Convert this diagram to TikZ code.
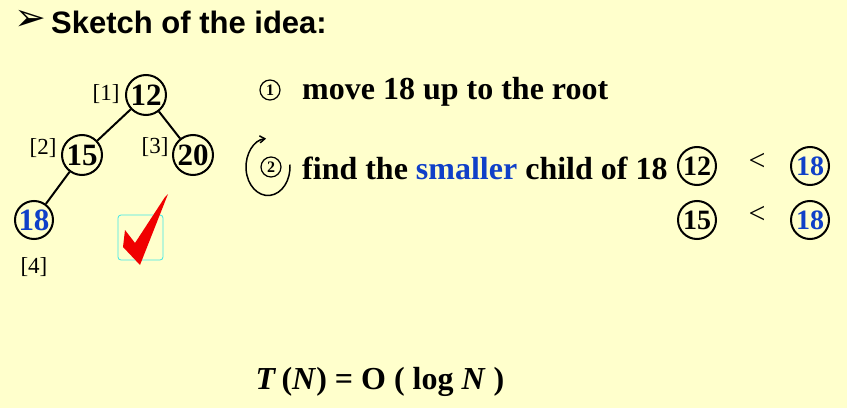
\documentclass[tikz,border=0pt]{standalone}
\usepackage{fontspec}
\setmainfont{Liberation Serif}
\newfontfamily\headfont{Liberation Sans}
\newfontfamily\symfont{DejaVu Sans}
\usetikzlibrary{arrows.meta}
\definecolor{bgyellow}{RGB}{255,255,204}
\definecolor{keyblue}{RGB}{16,64,200}
\definecolor{checkred}{RGB}{240,0,0}
\definecolor{boxcyan}{RGB}{64,230,230}
\begin{document}
\begin{tikzpicture}[x=1pt,y=1pt,
  treenode/.style={circle,draw,line width=2pt,minimum size=40pt,inner sep=0pt,font=\fontsize{31}{31}\selectfont\bfseries},
  cmpnode/.style={circle,draw,line width=2pt,minimum size=38pt,inner sep=0pt,font=\fontsize{28}{28}\selectfont\bfseries},
  idxlabel/.style={font=\fontsize{23}{23}\selectfont,inner sep=0pt},
  numcirc/.style={circle,draw,line width=1.2pt,minimum size=20pt,inner sep=0pt,font=\fontsize{16}{16}\selectfont\bfseries},
  steptext/.style={anchor=west,inner sep=0pt,font=\fontsize{32}{32}\selectfont\bfseries},
  edge/.style={line width=2pt}]
\useasboundingbox[fill=bgyellow] (0,0) rectangle (847,408);
% title
\node[inner sep=0pt,font=\symfont\fontsize{38}{38}\selectfont] (bullet) at (30,388) {➢};
\node[anchor=west,inner sep=0pt,font=\headfont\fontsize{31}{31}\selectfont\bfseries] (title) at (51,386) {Sketch of the idea:};
% tree
\node[treenode] (n12) at (146,313) {12};
\node[treenode] (n15) at (82,253) {15};
\node[treenode] (n20) at (193,253) {20};
\node[treenode,text=keyblue,minimum size=38pt] (n18) at (34,188) {18};
\draw[edge] (n12) -- (n15);
\draw[edge] (n12) -- (n20);
\draw[edge] (n15) -- (n18);
\node[idxlabel] (l1) at (106,314) {[1]};
\node[idxlabel] (l2) at (43,260) {[2]};
\node[idxlabel] (l3) at (155,261) {[3]};
\node[idxlabel] (l4) at (34,141) {[4]};
% check mark
\draw[boxcyan,line width=0.8pt,rounded corners=3pt] (118,148) rectangle (163,193);
\fill[checkred] (125,178) -- (135,165) -- (165,211) -- (168,214) -- (140,143) -- (123,161) -- cycle;
% steps
\node[numcirc] (c1) at (270,318) {1};
\node[steptext] (s1) at (302,316) {move 18 up to the root};
\node[numcirc] (c2) at (271,241) {2};
\node[steptext] (s2) at (302,240) {find the {\color{keyblue}smaller} child of 18};
\draw[line width=1.5pt,-{Straight Barb[length=5pt,width=7pt]}] (268,241) ++(5:22 and 28.5) arc[start angle=5,end angle=-265,x radius=22,y radius=28.5];
% comparisons
\node[cmpnode] (a12) at (697,242) {12};
\node[inner sep=0pt,font=\fontsize{30}{30}\selectfont] (lt1) at (757,246) {<};
\node[cmpnode,text=keyblue] (a18) at (810,242) {18};
\node[cmpnode] (b15) at (697,188) {15};
\node[inner sep=0pt,font=\fontsize{30}{30}\selectfont] (lt2) at (757,193) {<};
\node[cmpnode,text=keyblue] (b18) at (810,188) {18};
% complexity
\node[inner sep=0pt,font=\fontsize{32}{32}\selectfont\bfseries] (tn) at (380,26) {\textit{T}\,(\textit{N}) = O ( log \textit{N} )};
\end{tikzpicture}
\end{document}
